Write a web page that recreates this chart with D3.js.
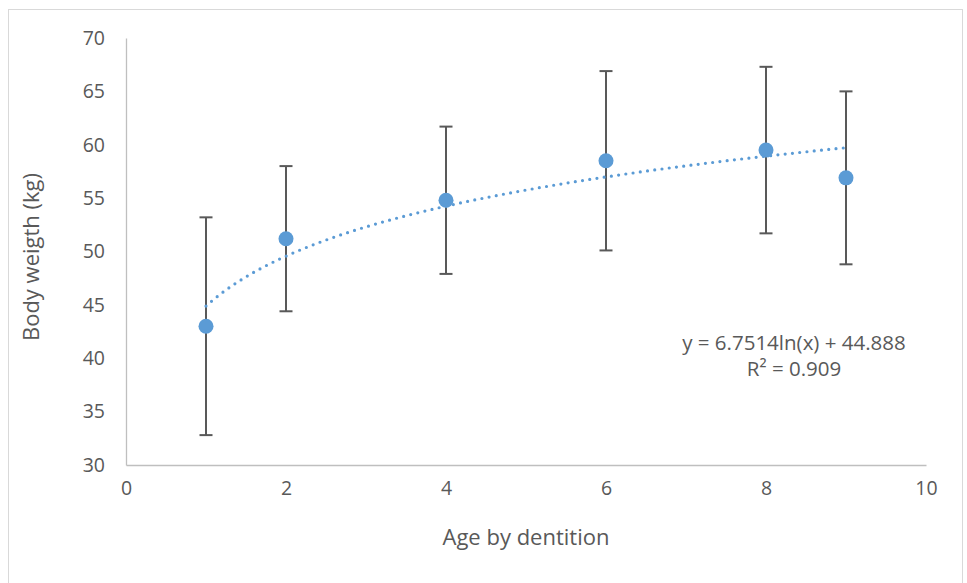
<!DOCTYPE html>
<html><head><meta charset="utf-8">
<script src="https://cdn.jsdelivr.net/npm/d3@7"></script>
<style>html,body{margin:0;padding:0;background:#fff;}</style>
</head><body><div id="chart"></div>
<script>
const ages = [1, 2, 4, 6, 8, 9];
const weights = [43.0, 51.2, 54.8, 58.5, 59.5, 56.9];
const errors = [10.2, 6.8, 6.9, 8.4, 7.8, 8.1];
const xTicks = [0, 2, 4, 6, 8, 10];
const yTicks = [30, 35, 40, 45, 50, 55, 60, 65, 70];
const trendA = 6.7514, trendB = 44.888;
const eqLines = ["y = 6.7514ln(x) + 44.888", "R² = 0.909"];

const W = 967, H = 583;
const svg = d3.select("#chart").append("svg").attr("width", W).attr("height", H);
const font = "'Open Sans', sans-serif";
const textCol = "#595959";

svg.append("rect").attr("x", 8.5).attr("y", 9.5).attr("width", 954).attr("height", 600)
  .attr("fill", "#fff").attr("stroke", "#d9d9d9").attr("stroke-width", 1);

const x = d3.scaleLinear().domain([0, 10]).range([126, 926]);
const y = d3.scaleLinear().domain([30, 70]).range([465, 38]);

const xAxis = svg.append("g").attr("transform", `translate(0,${y(30)})`)
  .call(d3.axisBottom(x).tickValues(xTicks).tickSize(0).tickPadding(21));
const yAxis = svg.append("g").attr("transform", `translate(${x(0)},0)`)
  .call(d3.axisLeft(y).tickValues(yTicks).tickSize(0).tickPadding(21));
[xAxis, yAxis].forEach(g => {
  g.select(".domain").attr("stroke", "#bfbfbf").attr("stroke-width", 1.3);
  g.selectAll("text").attr("fill", textCol).attr("font-family", font).attr("font-size", 19.5);
});
xAxis.selectAll("text").attr("dy", "0.45em");

// error bars
const eb = svg.append("g").attr("stroke", "#595959").attr("stroke-width", 2);
ages.forEach((a, i) => {
  const cx = x(a), top = y(weights[i] + errors[i]), bot = y(weights[i] - errors[i]);
  eb.append("line").attr("x1", cx).attr("x2", cx).attr("y1", top).attr("y2", bot);
  eb.append("line").attr("x1", cx - 6.5).attr("x2", cx + 6.5).attr("y1", top).attr("y2", top);
  eb.append("line").attr("x1", cx - 6.5).attr("x2", cx + 6.5).attr("y1", bot).attr("y2", bot);
});

// trendline
const tx = d3.range(0, 201).map(k => 1 + k * 8 / 200);
svg.append("path")
  .attr("d", d3.line().x(d => x(d)).y(d => y(trendA * Math.log(d) + trendB))(tx))
  .attr("fill", "none").attr("stroke", "#5b9bd5").attr("stroke-width", 3.2)
  .attr("stroke-linecap", "round").attr("stroke-dasharray", "0 7.3");

// points
svg.append("g").selectAll("circle").data(ages).join("circle")
  .attr("cx", d => x(d)).attr("cy", (d, i) => y(weights[i])).attr("r", 7.5)
  .attr("fill", "#5b9bd5");

// equation
const eq = svg.append("text").attr("font-family", font).attr("font-size", 20.5)
  .attr("fill", textCol).attr("text-anchor", "middle");
eqLines.forEach((t, i) => eq.append("tspan").attr("x", 794).attr("y", 350 + i * 26).text(t));

// axis titles
svg.append("text").attr("x", x(5)).attr("y", 545).attr("text-anchor", "middle")
  .attr("font-family", font).attr("font-size", 22).attr("fill", textCol).text("Age by dentition");
svg.append("text").attr("transform", `translate(39,257) rotate(-90)`).attr("text-anchor", "middle")
  .attr("font-family", font).attr("font-size", 22).attr("fill", textCol).text("Body weigth (kg)");
</script></body></html>
